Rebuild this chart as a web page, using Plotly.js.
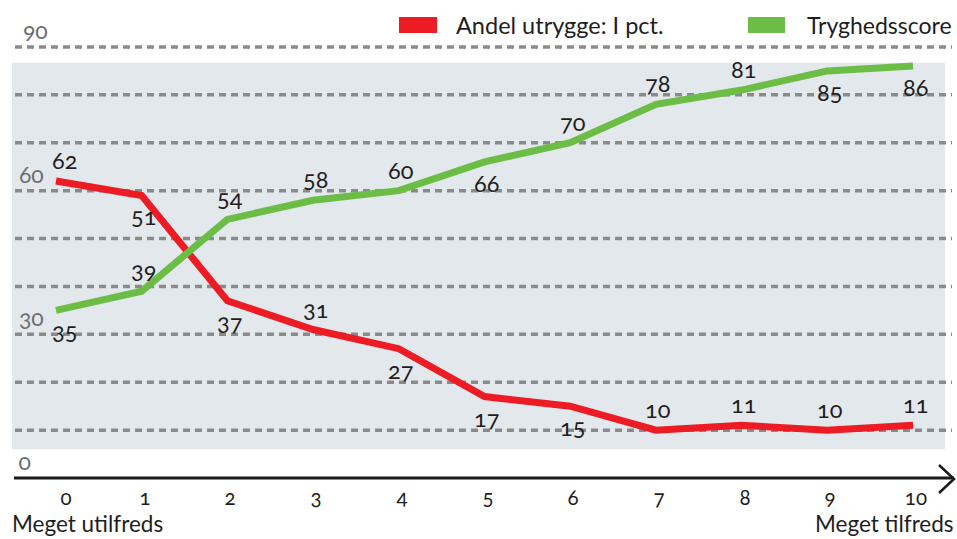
<!DOCTYPE html>
<html>
<head>
<meta charset="utf-8">
<script src="https://cdn.plot.ly/plotly-3.0.1.min.js"></script>
<style>
html,body{margin:0;padding:0;background:#fff;}
#chart{width:957px;height:539px;}
#chart text{font-feature-settings:"onum" 1;}
</style>
</head>
<body>
<div id="chart"></div>
<script>
// ---- data ----
var categories = [0,1,2,3,4,5,6,7,8,9,10];
var tickLabels = ["0","1","2","3","4","5","6","7","8","9","10"];
var seriesNames = ["Andel utrygge: I pct.", "Tryghedsscore"];
var redValues = [62,59,37,31,27,17,15,10,11,10,11];          // line as drawn
var redLabels = ["62","51","37","31","27","17","15","10","11","10","11"]; // labels as printed
var greenValues = [35,39,54,58,60,66,70,78,81,85,86];
var greenLabels = ["35","39","54","58","60","66","70","78","81","85","86"];
var gridValues = [10,20,30,40,50,60,70,80,90];
var yTickValues = [0,30,60,90];
var endLabels = ["Meget utilfreds","Meget tilfreds"];

// ---- style ----
var RED = "#ed1c24", GREEN = "#6cbd45";
var FONT = "Lato, 'Open Sans', sans-serif";
var redSide = [1,-1,-1,1,-1,-1,-1,1,1,1,1];
var greenSide = [-1,1,1,1,1,-1,1,1,1,-1,-1];

var traces = [
  {x:categories, y:redValues, name:seriesNames[0], mode:"lines",
   line:{color:RED, width:7}, hoverinfo:"skip", showlegend:false},
  {x:categories, y:greenValues, name:seriesNames[1], mode:"lines",
   line:{color:GREEN, width:7}, hoverinfo:"skip", showlegend:false}
];

var shapes = [];
shapes.push({type:"rect", xref:"paper", yref:"y", x0:12/957, x1:945/957, y0:6, y1:86.7,
  fillcolor:"#e3e8ec", line:{width:0}, layer:"below"});
gridValues.forEach(function(v){
  shapes.push({type:"line", xref:"paper", yref:"y", x0:15/957, x1:952/957, y0:v, y1:v,
    line:{color:"#8a8a8a", width:3.5, dash:"7px,5px"}, layer:"below"});
});
shapes.push({type:"line", xref:"paper", yref:"y", x0:14/957, x1:954/957, y0:0, y1:0,
  line:{color:"#1a1a1a", width:3}});
shapes.push({type:"path", xref:"paper", yref:"paper",
  path:"M "+(939/957)+" "+(1-465/539)+" L "+(954/957)+" "+(1-479/539)+" L "+(939/957)+" "+(1-493/539),
  line:{color:"#1a1a1a", width:2.5}});
shapes.push({type:"rect", xref:"paper", yref:"paper", x0:399/957, x1:437/957, y0:1-33/539, y1:1-17/539,
  fillcolor:RED, line:{width:0}});
shapes.push({type:"rect", xref:"paper", yref:"paper", x0:748/957, x1:785/957, y0:1-33/539, y1:1-17/539,
  fillcolor:GREEN, line:{width:0}});

var ann = [];
function addLabels(vals, labels, sides){
  vals.forEach(function(v,i){
    ann.push({x:categories[i], y:v, text:labels[i], showarrow:false,
      xanchor:"center", yanchor:"middle", xshift:(i===0?9:2), yshift:sides[i]*21,
      font:{family:FONT, size:23.5, color:"#1e1e1e"}});
  });
}
addLabels(redValues, redLabels, redSide);
addLabels(greenValues, greenLabels, greenSide);

yTickValues.forEach(function(v){
  ann.push({xref:"paper", x:(v===90?20:16)/957, y:v, yshift:17, text:String(v), showarrow:false,
    xanchor:"left", yanchor:"middle", font:{family:FONT, size:23, color:"#6e6e6e"}});
});
tickLabels.forEach(function(t,i){
  ann.push({x:categories[i], xshift:(i===0?10:3), xref:"x", yref:"paper", y:1-497/539, text:t, showarrow:false,
    xanchor:"center", yanchor:"middle", font:{family:FONT, size:20.5, color:"#1e1e1e"}});
});
ann.push({xref:"paper", yref:"paper", x:10/957, y:0, text:endLabels[0], showarrow:false,
  xanchor:"left", yanchor:"bottom", font:{family:FONT, size:22.5, color:"#1e1e1e"}});
ann.push({xref:"paper", yref:"paper", x:956/957, y:0, text:endLabels[1], showarrow:false,
  xanchor:"right", yanchor:"bottom", font:{family:FONT, size:22.5, color:"#1e1e1e"}});
ann.push({xref:"paper", yref:"paper", x:454/957, y:1-25/539, text:seriesNames[0], showarrow:false,
  xanchor:"left", yanchor:"middle", font:{family:FONT, size:23.5, color:"#1e1e1e"}});
ann.push({xref:"paper", yref:"paper", x:805/957, y:1-25/539, text:seriesNames[1], showarrow:false,
  xanchor:"left", yanchor:"middle", font:{family:FONT, size:23, color:"#1e1e1e"}});

var layout = {
  width:957, height:539,
  margin:{l:0,r:0,t:0,b:0},
  paper_bgcolor:"#ffffff", plot_bgcolor:"rgba(0,0,0,0)",
  showlegend:false,
  xaxis:{range:[-0.653,10.513], showgrid:false, zeroline:false, showticklabels:false, fixedrange:true},
  yaxis:{range:[-12.73,99.8], showgrid:false, zeroline:false, showticklabels:false, fixedrange:true},
  shapes:shapes, annotations:ann
};
Plotly.newPlot("chart", traces, layout, {staticPlot:true, displayModeBar:false});
</script>
</body>
</html>
